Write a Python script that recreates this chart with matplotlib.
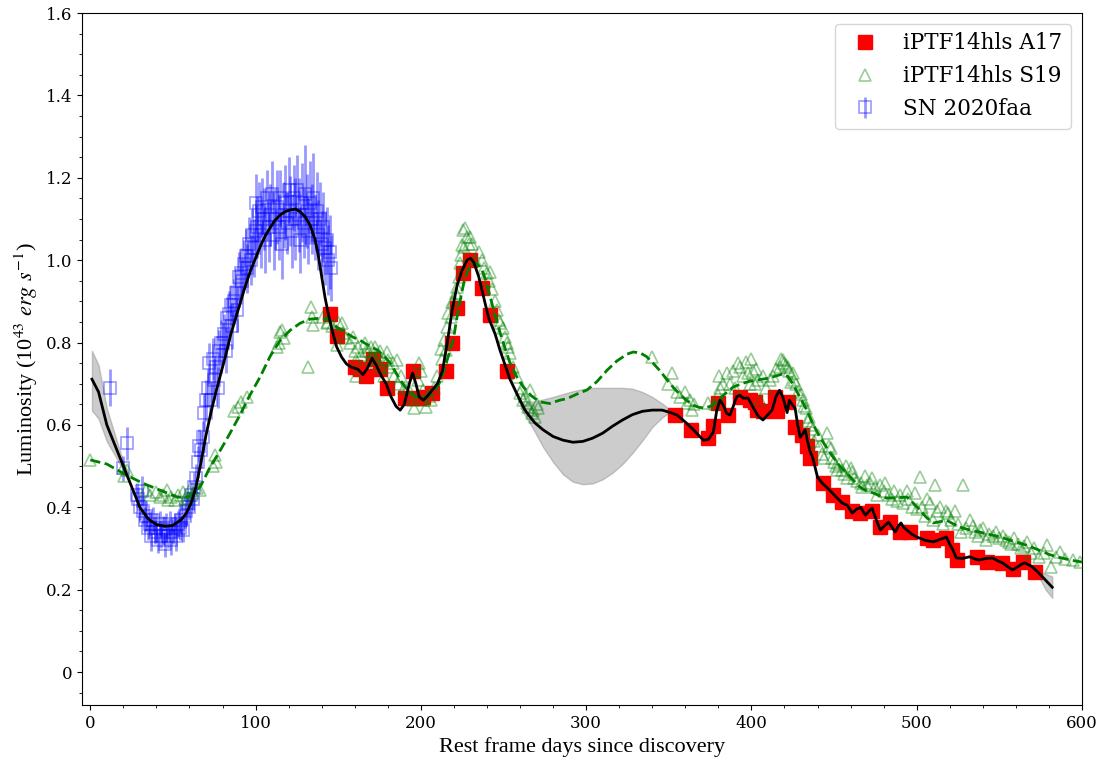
import numpy as np
import matplotlib
matplotlib.use('Agg')
import matplotlib.pyplot as plt
from matplotlib.ticker import MultipleLocator

plt.rcParams['font.family'] = 'DejaVu Serif'
plt.rcParams['mathtext.fontset'] = 'stix'

# iPTF14hls, Arcavi+17 bolometric points
a17_days = [145, 149.5, 160, 163, 167, 171, 175.5, 179.5, 190.5, 195, 199, 201.5, 207, 215, 219, 222,
            225.5, 230, 237, 242, 252, 354, 363.5, 374, 377, 379.5, 386, 393, 399, 402, 403.5, 407,
            414, 415.5, 422, 426.5, 430.5, 433.5, 435.5, 443.5, 449.5, 455, 461, 465.5, 473, 478,
            484, 490, 496, 506, 510, 518, 521.5, 524.5, 536.5, 542.5, 551.5, 558, 564.5, 571.5]
a17_lum = [0.87, 0.815, 0.74, 0.735, 0.72, 0.76, 0.735, 0.69, 0.665, 0.73, 0.665, 0.668, 0.677, 0.73, 0.80, 0.885,
           0.97, 1.0, 0.932, 0.868, 0.73, 0.624, 0.588, 0.568, 0.597, 0.653, 0.624, 0.668, 0.66, 0.656, 0.636, 0.635,
           0.668, 0.635, 0.655, 0.595, 0.575, 0.55, 0.52, 0.458, 0.43, 0.413, 0.39, 0.385, 0.39, 0.352,
           0.365, 0.34, 0.34, 0.325, 0.32, 0.325, 0.296, 0.272, 0.28, 0.268, 0.265, 0.25, 0.267, 0.243]

# iPTF14hls, Sollerman+19 points
s19_days = [0, 20, 20.5, 22, 34, 36, 40, 42, 44, 46.5, 47, 49, 51.5, 53, 56, 57, 59, 60, 62, 64.5, 66.5,
            74, 75.5, 76, 87, 89.5, 91, 95, 113, 114, 115, 116, 117, 132, 133.5, 134, 135,
            141, 143, 144, 146, 149, 150, 152, 153, 155, 157, 159, 160, 160.5, 161, 162, 164, 166,
            167, 168, 169, 170, 171, 172, 173, 174, 175, 176, 177, 178, 179.5, 180, 181, 183, 184,
            185.5, 186, 188, 190, 192, 193, 195, 196, 198, 199, 200, 201, 202, 203, 205, 206, 208,
            210, 212, 213, 214, 215, 216, 216.5, 218, 219, 220, 221, 222, 223, 223.5, 224, 225,
            225.5, 226, 227, 228, 229, 230, 231, 233, 235, 237, 238, 240, 241, 242, 243, 245, 246,
            247, 248, 250, 251, 252, 253, 254, 256, 258, 260, 261, 262, 263, 264, 265, 266, 267,
            268, 269, 270, 271, 340, 349.6, 352, 355, 357, 360, 361, 363, 364, 365, 374, 378, 380,
            380.5, 381, 383, 385, 387, 389, 390, 392, 393, 395, 397, 398, 399, 400, 401, 402, 403,
            404, 405, 407, 409, 411, 413, 415, 417, 418, 419, 420, 421, 422, 423, 424, 425, 426,
            427, 428, 430, 431, 432, 433, 434, 435, 436, 437, 438, 440, 441, 443, 444, 446, 447,
            448, 449, 450, 451, 452, 453, 455, 456, 457, 458, 460, 461, 462, 464, 466, 467, 469,
            470, 472, 473, 475, 476, 478, 480, 481, 483, 485, 486, 488, 490, 492, 494, 495, 497,
            499, 500, 502, 503, 505, 506, 508, 510, 511, 512, 514, 516, 518, 519, 521, 523, 525,
            527, 528, 530, 532, 534, 535, 537, 538, 540, 542, 544, 546, 548, 550, 552, 554, 556,
            557, 559, 561, 563, 565, 567, 569, 571, 574, 577, 579, 581, 584, 587, 590, 594.6, 599]
s19_lum = [0.515, 0.495, 0.475, 0.49, 0.442, 0.43, 0.437, 0.425, 0.43, 0.442, 0.418, 0.425, 0.418, 0.43, 0.437, 0.42, 0.422, 0.44, 0.435, 0.447, 0.442,
           0.50, 0.527, 0.51, 0.635, 0.643, 0.655, 0.668, 0.79, 0.80, 0.825, 0.83, 0.81, 0.74, 0.886, 0.862, 0.842,
           0.862, 0.847, 0.85, 0.84, 0.794, 0.85, 0.847, 0.823, 0.81, 0.80, 0.813, 0.78, 0.757, 0.72, 0.79, 0.77, 0.80,
           0.78, 0.78, 0.76, 0.79, 0.77, 0.79, 0.75, 0.77, 0.78, 0.74, 0.76, 0.72, 0.777, 0.757, 0.74, 0.75, 0.72,
           0.757, 0.70, 0.72, 0.69, 0.69, 0.67, 0.66, 0.64, 0.709, 0.75, 0.73, 0.685, 0.66, 0.643, 0.67, 0.66, 0.69,
           0.72, 0.785, 0.76, 0.806, 0.782, 0.838, 0.872, 0.862, 0.898, 0.903, 0.92, 0.935, 0.96, 0.993, 1.012, 1.037,
           1.073, 1.032, 1.078, 1.056, 1.04, 1.056, 1.04, 1.0, 1.02, 1.0, 0.98, 0.969, 0.95, 0.971, 0.93, 0.90, 0.879,
           0.855, 0.847, 0.835, 0.813, 0.80, 0.79, 0.775, 0.74, 0.716, 0.677, 0.69, 0.66, 0.67, 0.653, 0.643, 0.685, 0.629,
           0.636, 0.62, 0.65, 0.64, 0.765, 0.70, 0.726, 0.68, 0.668, 0.68, 0.653, 0.66, 0.636, 0.65, 0.653, 0.65, 0.672,
           0.72, 0.69, 0.70, 0.726, 0.70, 0.73, 0.69, 0.75, 0.74, 0.72, 0.753, 0.727, 0.70, 0.76, 0.73, 0.70, 0.735,
           0.71, 0.66, 0.72, 0.69, 0.71, 0.72, 0.735, 0.74, 0.76, 0.757, 0.75, 0.745, 0.74, 0.73, 0.705, 0.725, 0.71,
           0.70, 0.68, 0.675, 0.66, 0.645, 0.64, 0.61, 0.62, 0.60, 0.59, 0.56, 0.575, 0.55, 0.53, 0.52, 0.58, 0.55,
           0.545, 0.52, 0.51, 0.50, 0.49, 0.505, 0.49, 0.48, 0.50, 0.47, 0.495, 0.485, 0.47, 0.465, 0.46, 0.45, 0.475,
           0.455, 0.46, 0.47, 0.45, 0.43, 0.455, 0.44, 0.46, 0.43, 0.42, 0.44, 0.415, 0.43, 0.41, 0.44, 0.42, 0.40,
           0.435, 0.395, 0.473, 0.40, 0.38, 0.42, 0.41, 0.37, 0.454, 0.39, 0.40, 0.36, 0.39, 0.385, 0.37, 0.39, 0.36,
           0.34, 0.455, 0.35, 0.37, 0.355, 0.34, 0.33, 0.345, 0.35, 0.32, 0.335, 0.33, 0.34, 0.325, 0.33, 0.32, 0.315,
           0.31, 0.325, 0.31, 0.30, 0.305, 0.315, 0.29, 0.30, 0.28, 0.29, 0.308, 0.255, 0.28, 0.291, 0.275, 0.272, 0.267]

# SN 2020faa with errors
faa_days = [12, 20, 22.4, 28, 29, 30, 31, 32, 33, 34, 35, 36, 37, 38, 39, 40, 41, 42, 43, 44, 45, 46, 47,
            48, 49, 50, 51, 52, 53, 54, 55, 56, 57, 58, 59, 60, 61, 62, 63, 64,
            65, 66, 67, 68, 69, 70, 71, 72, 73, 74, 75, 76, 77, 78, 79, 80, 81, 82, 83, 84, 85, 86,
            87, 88, 89, 90, 91, 92, 93, 94, 95, 96, 97, 98, 99, 100,
            100.5, 101, 102, 103, 104, 105, 106, 107, 108, 109, 110, 111, 112, 113, 114, 115, 116,
            117, 118, 119, 120, 121, 122, 123, 124, 125, 126, 127, 128, 129, 130, 131, 132, 133,
            134, 135, 136, 137, 138, 139, 140, 141, 142, 143, 144, 145, 145.5]
faa_lum = [0.69, 0.495, 0.555, 0.43, 0.42, 0.40, 0.44, 0.39, 0.37, 0.38, 0.35, 0.36, 0.33, 0.37, 0.34, 0.35, 0.32, 0.36, 0.33, 0.345, 0.31, 0.35, 0.33,
           0.36, 0.32, 0.34, 0.355, 0.33, 0.36, 0.35, 0.37, 0.345, 0.38, 0.39, 0.41, 0.40, 0.43, 0.42, 0.45, 0.47,
           0.51, 0.55, 0.54, 0.57, 0.63, 0.66, 0.69, 0.75, 0.66, 0.76, 0.71, 0.74, 0.69, 0.78, 0.80, 0.80, 0.82, 0.78, 0.86, 0.87, 0.89, 0.84,
           0.90, 0.92, 0.88, 0.96, 0.97, 0.95, 0.99, 1.01, 0.98, 1.04, 1.00, 1.06, 1.03, 1.07,
           1.14, 1.08, 1.12, 1.06, 1.13, 1.10, 1.05, 1.15, 1.08, 1.11, 1.16, 1.06, 1.10, 1.13, 1.08, 1.15, 1.04,
           1.11, 1.14, 1.09, 1.17, 1.12, 1.07, 1.15, 1.10, 1.17, 1.11, 1.05, 1.14, 1.09, 1.16, 1.12, 1.07, 1.14,
           1.10, 1.15, 1.08, 1.12, 1.06, 1.10, 1.04, 1.08, 1.03, 1.05, 1.00, 1.02, 0.98]
faa_err = [0.045, 0.03, 0.04, 0.03, 0.03, 0.03, 0.035, 0.03, 0.03, 0.035, 0.03, 0.03, 0.035, 0.03, 0.03, 0.035, 0.03, 0.03, 0.03, 0.035, 0.03, 0.035, 0.03,
           0.03, 0.035, 0.03, 0.03, 0.035, 0.03, 0.03, 0.035, 0.03, 0.03, 0.035, 0.03, 0.03, 0.035, 0.03, 0.035, 0.035,
           0.04, 0.04, 0.045, 0.04, 0.045, 0.05, 0.045, 0.05, 0.045, 0.05, 0.05, 0.045, 0.05, 0.05, 0.055, 0.05, 0.05, 0.055, 0.05, 0.055, 0.05, 0.055,
           0.055, 0.06, 0.055, 0.06, 0.06, 0.055, 0.06, 0.065, 0.06, 0.065, 0.06, 0.065, 0.07, 0.065,
           0.07, 0.075, 0.07, 0.08, 0.07, 0.075, 0.08, 0.07, 0.085, 0.075, 0.08, 0.085, 0.075, 0.09, 0.08, 0.07, 0.085,
           0.08, 0.09, 0.075, 0.08, 0.085, 0.09, 0.08, 0.1, 0.085, 0.09, 0.08, 0.095, 0.085, 0.12, 0.09, 0.08, 0.1,
           0.085, 0.11, 0.08, 0.095, 0.085, 0.09, 0.08, 0.085, 0.09, 0.08, 0.085, 0.09, 0.08]

# GP mean through the A17 + 2020faa data
gp_days = [1, 5, 10, 15, 20, 25, 30, 35, 40, 45, 50, 55, 58, 61, 64, 67, 70, 73, 76, 79, 82, 85, 88, 91, 94, 97,
           100, 103, 106, 109, 112, 115, 118, 121, 124, 127, 130, 133, 136, 138, 140, 142, 144, 146, 149, 152,
           155, 158, 162, 165, 168, 170.5, 173, 176, 179, 182, 185, 187.5, 190, 193, 195, 197, 199, 201.5, 204,
           207, 210, 213, 216, 219, 222, 225, 228, 230, 232, 235, 238, 241, 245, 248, 251, 254, 257, 260, 263,
           266, 269, 274, 280, 286, 292, 298, 304, 310, 316, 322, 328, 334, 340, 346, 351, 355, 360, 365, 368,
           371, 374, 377, 379, 381, 383, 385, 387, 389, 391, 393, 395, 398, 401, 404, 407, 410, 412.5, 415, 417,
           419, 421.6, 423, 424.5, 426.4, 428, 429.5, 431, 432.5, 434, 435.5, 437, 440, 443, 446, 449, 452, 455,
           458, 461, 463.5, 466, 469, 471, 473, 475.5, 478, 480.5, 483, 485, 487, 489, 490.5, 492, 494, 497, 500,
           505, 510, 514, 518, 520, 521.5, 524, 528, 532, 535, 538, 542, 546, 549, 552, 555, 558, 561, 563.5,
           565.5, 568, 570, 574, 578, 582]
gp_lum = [0.711, 0.68, 0.60, 0.55, 0.50, 0.45, 0.40, 0.372, 0.358, 0.354, 0.356, 0.37, 0.385, 0.41, 0.45, 0.51, 0.575, 0.63, 0.68, 0.725, 0.77, 0.82, 0.86, 0.90, 0.94, 0.975,
          1.005, 1.035, 1.06, 1.08, 1.098, 1.11, 1.118, 1.122, 1.124, 1.118, 1.105, 1.085, 1.05, 1.01, 0.96, 0.91, 0.87, 0.835, 0.79, 0.765,
          0.748, 0.74, 0.735, 0.722, 0.74, 0.762, 0.745, 0.72, 0.70, 0.668, 0.645, 0.636, 0.65, 0.70, 0.726, 0.70, 0.668, 0.66, 0.67,
          0.685, 0.70, 0.73, 0.80, 0.88, 0.94, 0.976, 1.0, 1.005, 0.995, 0.96, 0.91, 0.86, 0.82, 0.78, 0.745, 0.71, 0.685, 0.66, 0.636,
          0.62, 0.605, 0.588, 0.572, 0.563, 0.558, 0.56, 0.568, 0.58, 0.597, 0.612, 0.625, 0.633, 0.636, 0.636, 0.63, 0.624, 0.607, 0.588, 0.575,
          0.563, 0.565, 0.583, 0.635, 0.66, 0.648, 0.628, 0.624, 0.645, 0.668, 0.672, 0.665, 0.665, 0.643, 0.622, 0.612, 0.625, 0.636, 0.67, 0.684,
          0.668, 0.63, 0.66, 0.65, 0.641, 0.60, 0.57, 0.578, 0.588, 0.56, 0.535, 0.522, 0.473, 0.458, 0.447, 0.435, 0.422, 0.41,
          0.405, 0.386, 0.395, 0.40, 0.381, 0.39, 0.398, 0.37, 0.345, 0.355, 0.364, 0.352, 0.34, 0.355, 0.362, 0.352, 0.345, 0.335, 0.328,
          0.32, 0.316, 0.322, 0.328, 0.31, 0.30, 0.277, 0.276, 0.28, 0.275, 0.272, 0.276, 0.277, 0.27, 0.265, 0.256, 0.248, 0.255, 0.262,
          0.265, 0.26, 0.255, 0.24, 0.223, 0.206]

# GP 1-sigma band, only where it opens up
band_days_early = [1, 5, 10, 15, 20, 25]
band_lo_early = [0.635, 0.615, 0.56, 0.525, 0.49, 0.45]
band_hi_early = [0.78, 0.745, 0.64, 0.575, 0.51, 0.45]
band_days_gap = [256, 262, 268, 274, 280, 286, 292, 298, 304, 310, 316, 322, 328, 334, 340, 346, 351, 356]
band_lo_gap = [0.69, 0.63, 0.59, 0.546, 0.51, 0.48, 0.462, 0.456, 0.458, 0.468, 0.484, 0.505, 0.532, 0.562, 0.595, 0.618, 0.632, 0.62]
band_hi_gap = [0.69, 0.65, 0.657, 0.662, 0.668, 0.675, 0.682, 0.687, 0.69, 0.69, 0.69, 0.69, 0.688, 0.68, 0.668, 0.652, 0.636, 0.622]
band_days_late = [570, 574, 578, 582]
band_lo_late = [0.255, 0.23, 0.2, 0.18]
band_hi_late = [0.255, 0.245, 0.238, 0.232]

# smooth fit through the S19 points
s19fit_days = [0, 10, 22, 32, 42, 52.6, 58.7, 62, 66.5, 72.6, 77, 82.9, 90.7, 96, 102.8, 109, 115, 121, 127, 133, 139,
               145, 149, 153, 159, 163, 168, 173.6, 177.5, 181.5, 184.5, 187.5, 190.5, 193.5, 196.5, 199.6, 203.5,
               207.5, 210.5, 213.5, 216.5, 219.6, 221.8, 223.8, 226, 228, 230, 231.7, 234.5, 237, 239.5, 242, 245,
               248, 251, 254, 258, 262, 267, 272, 278, 284, 288.5, 294.5, 300.6, 306.5, 312.7, 318.5, 324.8, 328.5,
               332.7, 336.5, 340.5, 345, 349, 353, 357, 360.7, 364.7, 368, 371, 375, 379, 383, 389, 394, 399, 405,
               411, 415, 419, 422, 425, 429, 433.5, 437.5, 441.5, 445.5, 449.4, 453.5, 457.8, 461.5, 465.7, 469.5,
               473.6, 477.5, 482, 488, 494, 498, 502, 506, 510, 514, 518, 522, 526, 532, 538, 544, 550.5, 556.5,
               562.5, 568.5, 574.6, 580.5, 586.7, 593, 600]
s19fit_lum = [0.515, 0.505, 0.478, 0.458, 0.442, 0.425, 0.425, 0.432, 0.45, 0.498, 0.527, 0.568, 0.625, 0.668, 0.717, 0.768, 0.806, 0.83, 0.847, 0.857, 0.859,
              0.855, 0.838, 0.828, 0.813, 0.806, 0.794, 0.782, 0.768, 0.75, 0.73, 0.709, 0.692, 0.68, 0.67, 0.665, 0.668,
              0.677, 0.695, 0.726, 0.765, 0.806, 0.86, 0.903, 0.945, 0.971, 0.987, 0.995, 0.99, 0.976, 0.948, 0.91, 0.865,
              0.823, 0.785, 0.75, 0.717, 0.692, 0.67, 0.656, 0.652, 0.66, 0.664, 0.675, 0.685, 0.705, 0.733, 0.755, 0.772, 0.777,
              0.775, 0.766, 0.75, 0.73, 0.709, 0.69, 0.673, 0.66, 0.648, 0.643, 0.641, 0.645, 0.655, 0.672, 0.692, 0.7, 0.706, 0.71,
              0.714, 0.719, 0.724, 0.718, 0.7, 0.67, 0.636, 0.6, 0.57, 0.545, 0.522, 0.5, 0.483, 0.466, 0.449, 0.44,
              0.435, 0.428, 0.422, 0.423, 0.425, 0.41, 0.393, 0.375, 0.362, 0.365, 0.369, 0.36, 0.352, 0.345, 0.34, 0.334, 0.328, 0.32,
              0.313, 0.305, 0.295, 0.285, 0.278, 0.272, 0.267]

ytick_vals = [0, 0.2, 0.4, 0.6, 0.8, 1.0, 1.2, 1.4, 1.6]
ytick_labels = ['0', '0.2', '0.4', '0.6', '0.8', '1.0', '1.2', '1.4', '1.6']

fig = plt.figure(figsize=(11.07, 7.58), dpi=100)
ax = fig.add_axes([0.0741, 0.0699, 0.9033, 0.9129])

ax.fill_between(band_days_early, band_lo_early, band_hi_early, color='grey', alpha=0.4, zorder=1)
ax.fill_between(band_days_gap, band_lo_gap, band_hi_gap, color='grey', alpha=0.4, zorder=1)
ax.fill_between(band_days_late, band_lo_late, band_hi_late, color='grey', alpha=0.4, zorder=1)

ax.plot(a17_days, a17_lum, 's', color='red', markersize=9.5, label='iPTF14hls A17', zorder=3)
ax.plot(s19_days, s19_lum, '^', color='green', markerfacecolor='none', markersize=9, mew=1.2,
        alpha=0.4, label='iPTF14hls S19', zorder=4)
ax.errorbar(faa_days, faa_lum, yerr=faa_err, fmt='s', color='blue', markerfacecolor='none',
            markersize=8, elinewidth=2, mew=1.2, alpha=0.4, label='SN 2020faa', zorder=2)

ax.plot(s19fit_days, s19fit_lum, '--', color='green', linewidth=2, zorder=5)
ax.plot(gp_days, gp_lum, '-', color='black', linewidth=2, zorder=6)

ax.set_xlim(-5, 600)
ax.set_ylim(-0.08, 1.6)
ax.set_yticks(ytick_vals)
ax.set_yticklabels(ytick_labels)
ax.xaxis.set_minor_locator(MultipleLocator(20))
ax.yaxis.set_minor_locator(MultipleLocator(0.05))
ax.tick_params(labelsize=12)

ax.set_xlabel('Rest frame days since discovery', fontsize=16, family='Liberation Serif')
ax.set_ylabel(r'Luminosity (10$^{43}$ $erg$ $s^{-1}$)', fontsize=16, family='Liberation Serif')
ax.legend(loc='upper right', fontsize=15.5)

fig.savefig('out.png', dpi=100)
